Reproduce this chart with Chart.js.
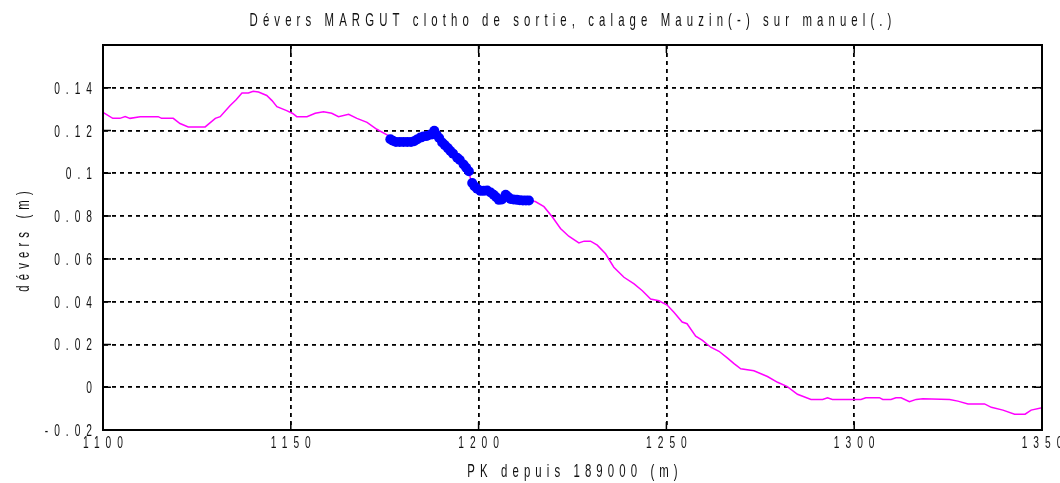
<!DOCTYPE html>
<html>
<head>
<meta charset="utf-8">
<script src="https://cdn.jsdelivr.net/npm/chart.js@4"></script>
<style>
  html, body { margin: 0; padding: 0; background: #fff; }
  #wrap { width: 1060px; height: 483px; }
</style>
</head>
<body>
<div id="wrap"><canvas id="devers" width="1060" height="483"></canvas></div>
<script>
// Dévers profile: full survey (magenta line) and manual staking (blue dots)
const pkLine = [
  1100, 1102.6, 1104.5, 1105.9, 1107.2, 1109.9, 1114.7, 1115.6, 1118.7, 1120.5,
  1122.7, 1127.2, 1129.9, 1131.2, 1133.8, 1135.5, 1137, 1138.7, 1140, 1141.4,
  1143.6, 1145, 1146.3, 1148.9, 1150.5, 1151.6, 1154.3, 1156.5, 1158.7, 1160.9,
  1162.7, 1165.4, 1167.6, 1170.3, 1172.9, 1176.1, 1179, 1182, 1184, 1185.4,
  1188.2, 1190.7, 1193.4, 1195.6, 1197.4, 1197.9, 1198.5, 1200.1, 1203.1, 1205,
  1207.2, 1209, 1213.4, 1215.1, 1217.4, 1219.6, 1221.8, 1224, 1226.7, 1228.1,
  1229.8, 1231.6, 1233.8, 1236, 1238.7, 1241.4, 1243.6, 1245.8, 1248, 1250.2,
  1252, 1254.2, 1255.5, 1257.8, 1259.6, 1261.8, 1264, 1266.2, 1268, 1269.8,
  1273.3, 1276.9, 1279.6, 1282.2, 1284.9, 1288.5, 1291.6, 1292.9, 1294.2, 1301.8,
  1303.1, 1306.7, 1307.6, 1309.8, 1311.1, 1312.5, 1314.7, 1316.5, 1318.3, 1325.4,
  1327.6, 1330.3, 1334.7, 1336.5, 1339.6, 1342.7, 1345.5, 1347.1, 1350
];
const devLine = [
  0.1285, 0.1257, 0.1257, 0.1265, 0.1257, 0.1265, 0.1265, 0.1257, 0.1257, 0.1233,
  0.1217, 0.1217, 0.1257, 0.1265, 0.1316, 0.1345, 0.1376, 0.1376, 0.1384, 0.1380,
  0.1364, 0.1340, 0.1312, 0.1293, 0.1280, 0.1265, 0.1265, 0.1281, 0.1288, 0.1281,
  0.1265, 0.1276, 0.1257, 0.1238, 0.1206, 0.1175, 0.1150, 0.1150, 0.1170, 0.1190,
  0.1200, 0.1135, 0.1090, 0.1050, 0.1010, 0.0970, 0.0945, 0.0923, 0.0908, 0.0878,
  0.0895, 0.0878, 0.0873, 0.0868, 0.0844, 0.0797, 0.0742, 0.0706, 0.0675, 0.0683,
  0.0683, 0.0664, 0.0624, 0.0561, 0.0514, 0.0483, 0.0451, 0.0412, 0.0404, 0.0384,
  0.0350, 0.0305, 0.0297, 0.0239, 0.0219, 0.0187, 0.0168, 0.0137, 0.0110, 0.0086,
  0.0077, 0.0050, 0.0023, 0.0003, -0.0033, -0.0057, -0.0057, -0.0049, -0.0057, -0.0057,
  -0.0049, -0.0049, -0.0057, -0.0057, -0.0049, -0.0049, -0.0068, -0.0057, -0.0054, -0.0057,
  -0.0065, -0.0078, -0.0078, -0.0094, -0.0107, -0.0126, -0.0126, -0.0107, -0.0096
];

const pkPts = [
  1176.5, 1177.2, 1178, 1179, 1180, 1181, 1182, 1182.8, 1183.6, 1184.5,
  1185.3, 1186.2, 1187.2, 1187.8, 1188.2, 1188.8, 1189.5, 1190.3, 1191, 1191.8,
  1192.5, 1193.2, 1194.3, 1195, 1196, 1196.7, 1197.4, 1198.3, 1198.9, 1199.6,
  1200.5, 1201.4, 1202.3, 1203.2, 1204, 1204.7, 1205.4, 1206.2, 1207.2, 1207.8,
  1208.5, 1209.3, 1210.2, 1211, 1211.8, 1212.6, 1213.4
];
const devPts = [
  0.1159, 0.1152, 0.1147, 0.1147, 0.1147, 0.1147, 0.1147, 0.1150, 0.1158, 0.1167,
  0.1172, 0.1175, 0.1181, 0.1183, 0.1199, 0.1180, 0.1165, 0.1144, 0.1132, 0.1118,
  0.1104, 0.1092, 0.1073, 0.1062, 0.1041, 0.1026, 0.1010, 0.0955, 0.0940, 0.0928,
  0.0918, 0.0918, 0.0920, 0.0910, 0.0900, 0.0888, 0.0876, 0.0878, 0.0900, 0.0890,
  0.0880, 0.0878, 0.0876, 0.0874, 0.0873, 0.0873, 0.0873
];

const xTicks = [1100, 1150, 1200, 1250, 1300, 1350];
const yTicks = [-0.02, 0, 0.02, 0.04, 0.06, 0.08, 0.1, 0.12, 0.14, 0.16];
const yLabels = ['-0.02', '0', '0.02', '0.04', '0.06', '0.08', '0.1', '0.12', '0.14', ''];

const TITLE = 'Dévers MARGUT clotho de sortie, calage Mauzin(-) sur manuel(.)';
const X_TITLE = 'PK depuis 189000 (m)';
const Y_TITLE = 'dévers (m)';
const FONT = "'Liberation Sans', Arial, sans-serif";
const SQUEEZE = 0.6;   // horizontal squeeze of all text
const INK = '#111';

// tall, narrow, widely spaced text
function spaced(ctx, text, x, y, size, gap, align, angle) {
  ctx.save();
  ctx.translate(x, y);
  if (angle) ctx.rotate(angle);
  ctx.scale(SQUEEZE, 1);
  ctx.font = size + 'px ' + FONT;
  ctx.letterSpacing = gap + 'px';
  ctx.fillStyle = INK;
  ctx.textAlign = 'left';
  ctx.textBaseline = 'alphabetic';
  const w = ctx.measureText(text).width - gap;
  const left = align === 'right' ? -w : align === 'center' ? -w / 2 : 0;
  ctx.fillText(text, left, 0);
  ctx.restore();
}

const labels = {
  id: 'labels',
  afterDraw(chart) {
    const { ctx, chartArea: a, scales: { x, y } } = chart;
    const cx = (a.left + a.right) / 2;
    const cy = (a.top + a.bottom) / 2;
    spaced(ctx, TITLE, cx - 2, 26, 19, 8.5, 'center');
    xTicks.forEach(v => spaced(ctx, String(v), x.getPixelForValue(v), 448, 17, 10, 'center'));
    yTicks.forEach((v, i) => spaced(ctx, yLabels[i], 92, y.getPixelForValue(v) + 6, 17, 10, 'right'));
    spaced(ctx, X_TITLE, cx, 477, 19, 8.5, 'center');
    spaced(ctx, Y_TITLE, 29, cy + 4, 19, 8.5, 'center', -Math.PI / 2);
  }
};

// closed box with inward tick marks on all four sides
const boxTicks = {
  id: 'boxTicks',
  afterDatasetsDraw(chart) {
    const { ctx, chartArea: a, scales: { x, y } } = chart;
    const len = 8;
    ctx.save();
    ctx.strokeStyle = '#000';
    ctx.lineWidth = 1.5;
    ctx.beginPath();
    xTicks.forEach(v => {
      const px = x.getPixelForValue(v);
      ctx.moveTo(px, a.bottom); ctx.lineTo(px, a.bottom - len);
      ctx.moveTo(px, a.top); ctx.lineTo(px, a.top + len);
    });
    yTicks.forEach(v => {
      const py = y.getPixelForValue(v);
      ctx.moveTo(a.left, py); ctx.lineTo(a.left + len, py);
      ctx.moveTo(a.right, py); ctx.lineTo(a.right - len, py);
    });
    ctx.stroke();
    ctx.lineWidth = 2;
    ctx.strokeRect(a.left, a.top, a.right - a.left, a.bottom - a.top);
    ctx.restore();
  }
};

const gridStyle = { color: '#000', lineWidth: 1.8, drawTicks: false };
const borderStyle = { display: true, color: '#000', width: 2, dash: [4, 4] };

new Chart(document.getElementById('devers'), {
  type: 'scatter',
  data: {
    datasets: [
      {
        label: 'manuel',
        data: pkPts.map((v, i) => ({ x: v, y: devPts[i] })),
        showLine: false,
        pointRadius: 5,
        pointBackgroundColor: '#0000ff',
        pointBorderColor: '#0000ff',
        pointBorderWidth: 0,
        order: 0
      },
      {
        label: 'Mauzin',
        data: pkLine.map((v, i) => ({ x: v, y: devLine[i] })),
        showLine: true,
        borderColor: '#ff00ff',
        borderWidth: 1.5,
        pointRadius: 0,
        tension: 0,
        order: 1
      }
    ]
  },
  options: {
    responsive: false,
    animation: false,
    events: [],
    layout: { padding: { top: 45, left: 0, right: 18, bottom: 0 } },
    plugins: {
      legend: { display: false },
      tooltip: { enabled: false },
      title: { display: false }
    },
    scales: {
      x: {
        type: 'linear',
        min: 1100,
        max: 1350,
        afterBuildTicks: s => { s.ticks = xTicks.map(v => ({ value: v })); },
        ticks: { display: false },
        grid: gridStyle,
        border: borderStyle,
        afterFit: s => { s.height = 53; s.paddingLeft = 0; s.paddingRight = 0; }
      },
      y: {
        type: 'linear',
        min: -0.02,
        max: 0.16,
        afterBuildTicks: s => { s.ticks = yTicks.map(v => ({ value: v })); },
        ticks: { display: false },
        grid: gridStyle,
        border: borderStyle,
        afterFit: s => { s.width = 103; s.paddingTop = 0; s.paddingBottom = 0; }
      }
    }
  },
  plugins: [labels, boxTicks]
});
</script>
</body>
</html>
